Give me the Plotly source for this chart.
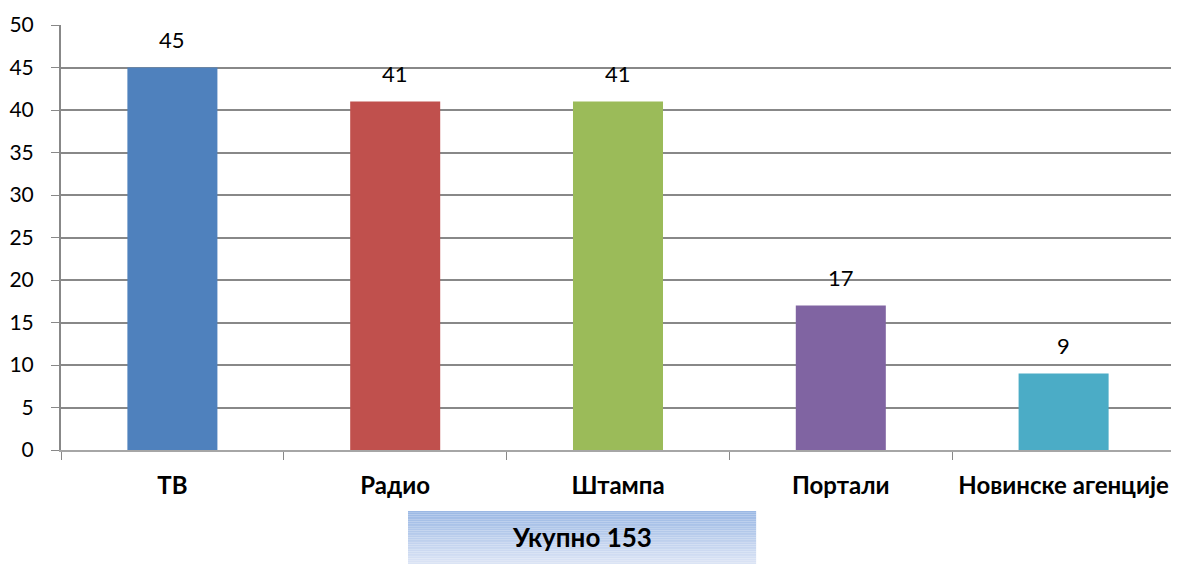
import plotly.graph_objects as go

categories = ["ТВ", "Радио", "Штампа", "Портали", "Новинске агенције"]
values = [45, 41, 41, 17, 9]
bar_colors = ["#4F81BD", "#C0504D", "#9BBB59", "#8064A2", "#4BACC6"]
total_label = "Укупно 153"

fig = go.Figure(
    go.Bar(
        x=categories,
        y=values,
        width=0.404,
        marker=dict(color=bar_colors, line=dict(width=0)),
        hoverinfo="x+y",
    )
)

# value labels above the bars
annotations = []
for c, v in zip(categories, values):
    annotations.append(dict(x=c, y=v, xref="x", yref="y", text=str(v), showarrow=False,
                            yshift=28, yanchor="middle",
                            font=dict(size=22, family="Lato", color="#000000")))

# gradient box below the axis (stripes)
x0, x1 = 0.3115, 0.624
y_top, y_bot = -0.1435, -0.268
n = 30
top_rgb = (155, 184, 228)
bot_rgb = (219, 228, 245)
shapes = []
for i in range(n):
    t = i / (n - 1)
    c = tuple(round(top_rgb[k] + (bot_rgb[k] - top_rgb[k]) * t) for k in range(3))
    ya = y_top + (y_bot - y_top) * i / n
    yb = y_top + (y_bot - y_top) * (i + 1) / n
    shapes.append(dict(type="rect", xref="paper", yref="paper", x0=x0, x1=x1, y0=yb, y1=ya,
                       fillcolor="rgb(%d,%d,%d)" % c, line=dict(width=0), layer="above"))

annotations.append(dict(text="<b>" + total_label + "</b>", xref="paper", yref="paper",
                        x=(x0 + x1) / 2, y=(y_top + y_bot) / 2, xanchor="center", yanchor="middle",
                        showarrow=False, font=dict(size=26, family="Lato", color="#000000")))

# page body has an 8px margin, so size the figure to fit the window
fig.update_layout(
    width=1171,
    height=557,
    paper_bgcolor="white",
    plot_bgcolor="white",
    margin=dict(l=53, r=4, t=17, b=115),
    showlegend=False,
    font=dict(family="Lato", color="#000000"),
    shapes=shapes,
    annotations=annotations,
    xaxis=dict(
        type="category",
        automargin=False,
        tickson="boundaries",
        ticks="outside",
        ticklen=8,
        tickcolor="#888888",
        showline=True,
        linecolor="#A6A6A6",
        linewidth=2,
        showgrid=False,
        tickfont=dict(size=24, family="Lato", color="#000000", weight="bold"),
        ticklabelstandoff=13,
    ),
    yaxis=dict(
        range=[0, 50],
        dtick=5,
        automargin=False,
        ticks="outside",
        ticklen=8,
        tickcolor="#888888",
        showline=True,
        linecolor="#888888",
        linewidth=2,
        showgrid=True,
        gridcolor="#888888",
        gridwidth=2,
        zeroline=False,
        tickfont=dict(size=21, family="Lato", color="#000000"),
        ticklabelstandoff=13,
    ),
)

fig.write_html("out.html")
